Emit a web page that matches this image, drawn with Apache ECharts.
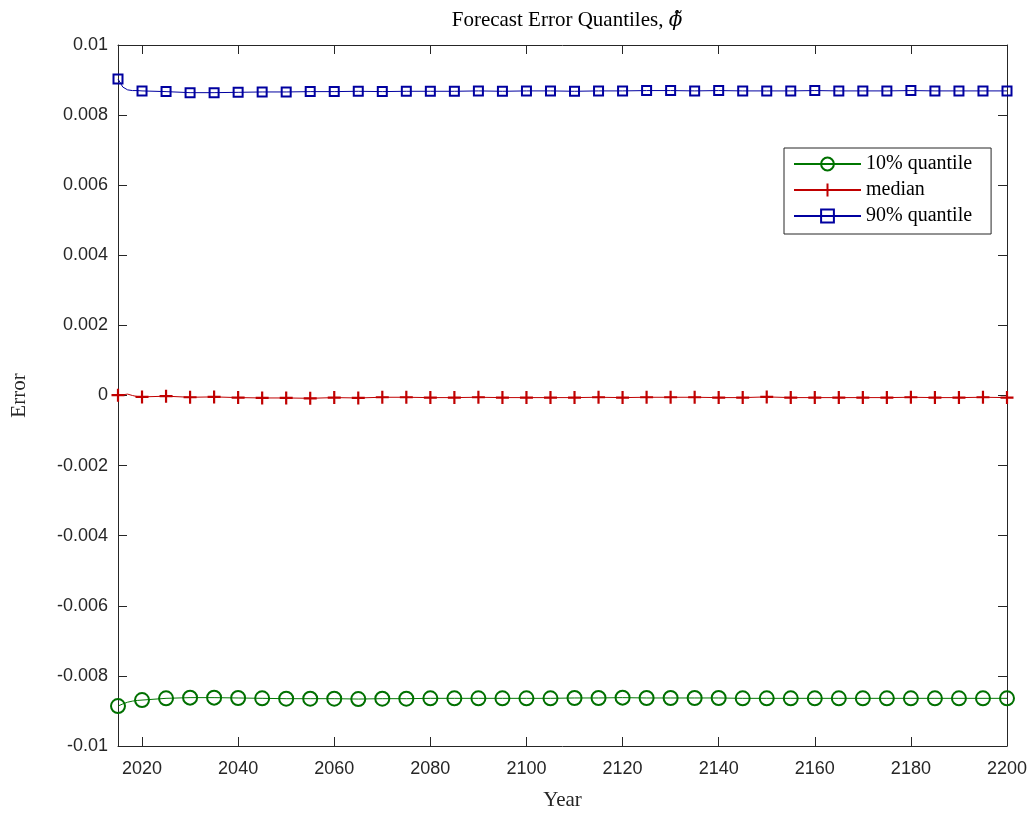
<!DOCTYPE html>
<html><head><meta charset="utf-8">
<script src="https://cdn.jsdelivr.net/npm/echarts@6/dist/echarts.min.js"></script>
<style>html,body{margin:0;padding:0;background:#fff}#c{width:1036px;height:816px}</style>
</head><body><div id="c"></div>
<script>
const years = [2015,2016,2017,2018,2019,2020,2025,2030,2035,2040,2045,2050,2055,2060,2065,2070,2075,2080,2085,2090,2095,2100,2105,2110,2115,2120,2125,2130,2135,2140,2145,2150,2155,2160,2165,2170,2175,2180,2185,2190,2195,2200];
const q10 = [-0.00886,-0.00880,-0.00875,-0.00872,-0.00870,-0.00869,-0.00864,-0.00862,-0.00862,-0.00863,-0.00864,-0.00865,-0.00865,-0.00865,-0.00866,-0.00865,-0.00865,-0.00864,-0.00864,-0.00864,-0.00864,-0.00864,-0.00864,-0.00863,-0.00863,-0.00862,-0.00863,-0.00863,-0.00863,-0.00863,-0.00864,-0.00864,-0.00864,-0.00864,-0.00864,-0.00864,-0.00864,-0.00864,-0.00864,-0.00864,-0.00864,-0.00864];
const med = [0.00001,0.00002,0.00004,0.00000,-0.00003,-0.00004,-0.00002,-0.00005,-0.00004,-0.00006,-0.00007,-0.00007,-0.00008,-0.00006,-0.00007,-0.00005,-0.00005,-0.00006,-0.00006,-0.00005,-0.00006,-0.00006,-0.00006,-0.00006,-0.00005,-0.00006,-0.00005,-0.00005,-0.00005,-0.00006,-0.00006,-0.00004,-0.00006,-0.00006,-0.00006,-0.00006,-0.00006,-0.00005,-0.00006,-0.00006,-0.00005,-0.00006];
const q90 = [0.00903,0.00880,0.00872,0.00870,0.00870,0.00869,0.00867,0.00864,0.00864,0.00865,0.00866,0.00866,0.00867,0.00867,0.00868,0.00867,0.00868,0.00868,0.00868,0.00869,0.00868,0.00869,0.00869,0.00868,0.00869,0.00869,0.00870,0.00870,0.00869,0.00870,0.00869,0.00869,0.00869,0.00870,0.00869,0.00869,0.00869,0.00870,0.00869,0.00869,0.00869,0.00869];
const xTicks = [2020,2040,2060,2080,2100,2120,2140,2160,2180,2200];
const seriesNames = ['10% quantile','median','90% quantile'];

function mk(vals){
  return years.map((y,i)=> y%5===0 ? [y,vals[i]] : {value:[y,vals[i]], symbol:'none'});
}
const axisColor = '#262626';
const chart = echarts.init(document.getElementById('c'), null, {renderer:'canvas'});
const tickStyle = {show:true, inside:true, length:9, lineStyle:{color:axisColor, width:1}};
chart.setOption({
  animation:false,
  backgroundColor:'#fff',
  title:{
    text:'{a|Forecast Error Quantiles, }{p|ϕ̃}',
    left:562, textAlign:'center', top:5,
    textStyle:{fontWeight:'normal', rich:{
      a:{fontFamily:'Liberation Serif', fontSize:21, fontWeight:'normal', color:'#000'},
      p:{fontFamily:'DejaVu Serif', fontSize:20, fontStyle:'italic', fontWeight:'normal', color:'#000'}
    }}
  },
  grid:{left:118, right:29, top:45, bottom:67},
  legend:{
    orient:'vertical', left:784, top:148,
    data:seriesNames,
    backgroundColor:'#fff', borderColor:axisColor, borderWidth:1,
    padding:[6,19,8,9], itemGap:6, itemWidth:67, itemHeight:16,
    textStyle:{fontFamily:'Liberation Serif', fontSize:20, color:'#000'}
  },
  xAxis:[{
    type:'value', min:2015, max:2200,
    name:'Year', nameLocation:'middle', nameGap:44,
    nameTextStyle:{fontFamily:'Liberation Serif', fontSize:21, color:'#262626'},
    axisLine:{onZero:false, lineStyle:{color:axisColor, width:1}},
    axisTick:Object.assign({customValues:xTicks}, tickStyle),
    axisLabel:{customValues:xTicks, margin:14, fontFamily:'Liberation Sans', fontSize:18, color:'#262626', formatter:v=>String(v)},
    splitLine:{show:false}
  },{
    type:'value', min:2015, max:2200, position:'top',
    axisLine:{onZero:false, lineStyle:{color:axisColor, width:1}},
    axisTick:Object.assign({customValues:xTicks}, tickStyle),
    axisLabel:{show:false, customValues:xTicks}, splitLine:{show:false}
  }],
  yAxis:[{
    type:'value', min:-0.01, max:0.01, interval:0.002,
    name:'Error', nameLocation:'middle', nameGap:88, nameRotate:90,
    nameTextStyle:{fontFamily:'Liberation Serif', fontSize:21, color:'#262626'},
    axisLine:{show:true, onZero:false, lineStyle:{color:axisColor, width:1}},
    axisTick:tickStyle,
    axisLabel:{margin:10, fontFamily:'Liberation Sans', fontSize:18, color:'#262626',
      formatter:v=>String(parseFloat(v.toFixed(4)))},
    splitLine:{show:false}
  },{
    type:'value', min:-0.01, max:0.01, interval:0.002, position:'right',
    axisLine:{show:true, onZero:false, lineStyle:{color:axisColor, width:1}},
    axisTick:tickStyle,
    axisLabel:{show:false}, splitLine:{show:false}
  }],
  series:[{
    name:seriesNames[0], type:'line', data:mk(q10),
    symbol:'circle', symbolSize:14, showAllSymbol:true,
    lineStyle:{color:'#007700', width:1},
    itemStyle:{color:'rgba(0,0,0,0)', borderColor:'#007000', borderWidth:2}
  },{
    name:seriesNames[1], type:'line', data:mk(med),
    symbol:'path://M0,5L10,5M5,0L5,10', symbolSize:13, showAllSymbol:true,
    lineStyle:{color:'#c00000', width:1},
    itemStyle:{color:'rgba(0,0,0,0)', borderColor:'#c00000', borderWidth:2.2}
  },{
    name:seriesNames[2], type:'line', data:mk(q90),
    symbol:'rect', symbolSize:9, showAllSymbol:true,
    lineStyle:{color:'#0000a0', width:1},
    itemStyle:{color:'rgba(0,0,0,0)', borderColor:'#0000a0', borderWidth:2}
  }]
});
</script></body></html>
